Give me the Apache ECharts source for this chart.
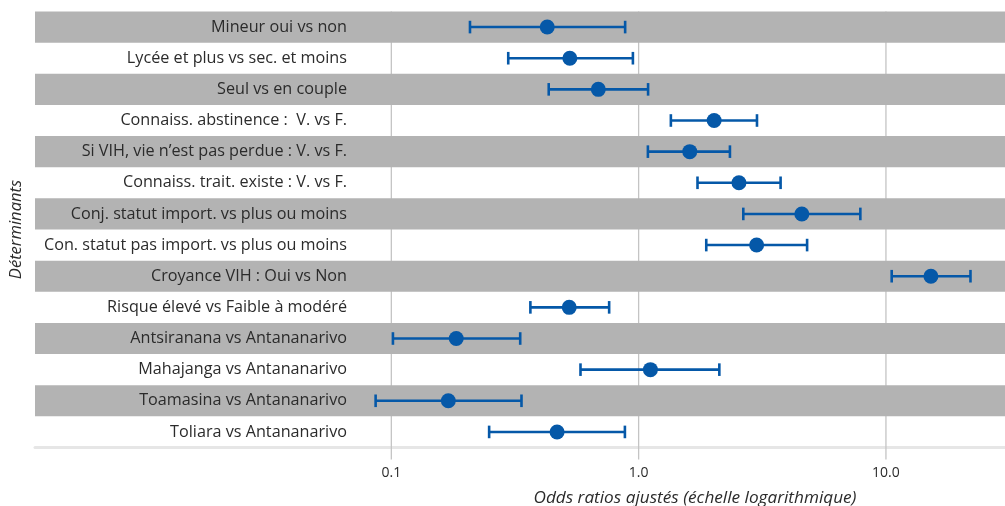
<!DOCTYPE html>
<html>
<head>
<meta charset="utf-8">
<script src="https://cdn.jsdelivr.net/npm/echarts@6/dist/echarts.min.js"></script>
<style>html,body{margin:0;padding:0;background:#fff}#c{width:1005px;height:506px}</style>
</head>
<body>
<div id="c"></div>
<script>
const categories = [
  "Mineur oui vs non",
  "Lycée et plus vs sec. et moins",
  "Seul vs en couple",
  "Connaiss. abstinence :  V. vs F.",
  "Si VIH, vie n’est pas perdue : V. vs F.",
  "Connaiss. trait. existe : V. vs F.",
  "Conj. statut import. vs plus ou moins",
  "Con. statut pas import. vs plus ou moins",
  "Croyance VIH : Oui vs Non",
  "Risque élevé vs Faible à modéré",
  "Antsiranana vs Antananarivo",
  "Mahajanga vs Antananarivo",
  "Toamasina vs Antananarivo",
  "Toliara vs Antananarivo"
];
const oddsRatios = [0.427, 0.527, 0.687, 2.02, 1.61, 2.545, 4.57, 3.0, 15.2, 0.524, 0.183, 1.116, 0.170, 0.468];
const lowerCI    = [0.208, 0.297, 0.433, 1.35, 1.09, 1.73, 2.65, 1.877, 10.55, 0.365, 0.1015, 0.582, 0.0864, 0.2486];
const upperCI    = [0.882, 0.948, 1.092, 3.01, 2.34, 3.75, 7.88, 4.80, 21.97, 0.760, 0.332, 2.12, 0.336, 0.880];
const tickValues = [0.1, 1, 10];
const tickLabels = ["0.1", "1.0", "10.0"];
const shadedRows = [0, 2, 4, 6, 8, 10, 12];

const BLUE = "#0558a8";
const FONT = "Open Sans";

const chart = echarts.init(document.getElementById('c'), null, {renderer: 'canvas'});

const option = {
  animation: false,
  backgroundColor: '#ffffff',
  title: {
    text: 'Odds ratios ajustés (échelle logarithmique)',
    left: 690, top: 485, textAlign: 'center',
    textStyle: {fontFamily: FONT, fontStyle: 'italic', fontWeight: 'normal', fontSize: 17.2, color: '#2b2b2b'}
  },
  grid: {left: 33, right: 0, top: 11.5, bottom: 58.5, containLabel: false},
  xAxis: {
    type: 'log', logBase: 10, min: 0.003624, max: 30.3,
    axisLine: {show: true, lineStyle: {color: '#e6e6e6', width: 3}},
    axisTick: {show: false},
    splitLine: {show: false},
    axisLabel: {
      margin: 19, fontFamily: FONT, fontSize: 14, color: '#2b2b2b',
      showMinLabel: false, showMaxLabel: false,
      formatter: function (v) {
        for (let i = 0; i < tickValues.length; i++) {
          if (Math.abs(Math.log10(v) - Math.log10(tickValues[i])) < 1e-6) return tickLabels[i];
        }
        return '';
      }
    }
  },
  yAxis: {
    type: 'category', data: categories, inverse: true, z: 10,
    axisLine: {show: false}, axisTick: {show: false}, splitLine: {show: false},
    axisLabel: {inside: true, align: 'right', margin: 312, fontFamily: FONT, fontSize: 16.2, color: '#2b2b2b'},
    name: 'Déterminants', nameLocation: 'middle', nameGap: 10,
    nameTextStyle: {fontFamily: FONT, fontStyle: 'italic', fontSize: 16.6, color: '#2b2b2b'}
  },
  series: [
    {
      type: 'custom', z: 1, silent: true,
      data: tickValues.map(v => [v, 0]),
      renderItem: function (params, api) {
        const cs = params.coordSys;
        const x = api.coord([api.value(0), 0])[0];
        return {type: 'line', shape: {x1: x, y1: cs.y, x2: x, y2: cs.y + cs.height + 12},
                style: {stroke: '#c4c4c4', lineWidth: 1.3}};
      }
    },
    {
      type: 'custom', z: 2, silent: true,
      data: shadedRows.map(r => [1, r]),
      renderItem: function (params, api) {
        const cs = params.coordSys;
        const yc = api.coord([1, api.value(1)])[1];
        const h = api.size([0, 1])[1];
        return {type: 'rect', shape: {x: cs.x, y: yc - h / 2, width: cs.width, height: h},
                style: {fill: '#b3b3b3'}};
      }
    },
    {
      type: 'custom', z: 3, silent: true,
      data: categories.map((c, i) => [lowerCI[i], upperCI[i], i]),
      encode: {x: [0, 1], y: 2},
      renderItem: function (params, api) {
        const p1 = api.coord([api.value(0), api.value(2)]);
        const p2 = api.coord([api.value(1), api.value(2)]);
        const cap = 6.3;
        const st = {stroke: BLUE, lineWidth: 2.6};
        return {type: 'group', children: [
          {type: 'line', shape: {x1: p1[0], y1: p1[1], x2: p2[0], y2: p2[1]}, style: st},
          {type: 'line', shape: {x1: p1[0], y1: p1[1] - cap, x2: p1[0], y2: p1[1] + cap}, style: st},
          {type: 'line', shape: {x1: p2[0], y1: p2[1] - cap, x2: p2[0], y2: p2[1] + cap}, style: st}
        ]};
      }
    },
    {
      type: 'scatter', z: 4, silent: true,
      symbol: 'circle', symbolSize: 15,
      itemStyle: {color: BLUE, opacity: 1},
      data: categories.map((c, i) => [oddsRatios[i], i])
    }
  ]
};
chart.setOption(option);
</script>
</body>
</html>
